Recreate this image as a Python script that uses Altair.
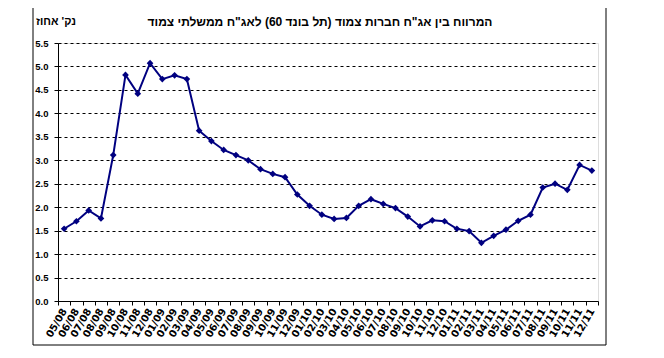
import altair as alt
import pandas as pd

months = [
    "05/08", "06/08", "07/08", "08/08", "09/08", "10/08", "11/08", "12/08",
    "01/09", "02/09", "03/09", "04/09", "05/09", "06/09", "07/09", "08/09",
    "09/09", "10/09", "11/09", "12/09",
    "01/10", "02/10", "03/10", "04/10", "05/10", "06/10", "07/10", "08/10",
    "09/10", "10/10", "11/10", "12/10",
    "01/11", "02/11", "03/11", "04/11", "05/11", "06/11", "07/11", "08/11",
    "09/11", "10/11", "11/11", "12/11",
]
spread = [
    1.54, 1.70, 1.93, 1.76, 3.11, 4.82, 4.42, 5.07,
    4.73, 4.81, 4.73, 3.63, 3.41, 3.22, 3.11, 3.00,
    2.81, 2.71, 2.64, 2.27,
    2.03, 1.84, 1.75, 1.77, 2.03, 2.17, 2.07, 1.98,
    1.80, 1.59, 1.72, 1.70,
    1.54, 1.49, 1.24, 1.39, 1.52, 1.71, 1.84, 2.42,
    2.50, 2.37, 2.90, 2.78,
]
y_ticks = [0.0, 0.5, 1.0, 1.5, 2.0, 2.5, 3.0, 3.5, 4.0, 4.5, 5.0, 5.5]

title_text = "המרווח בין אג\"ח חברות צמוד (תל בונד 60) לאג\"ח ממשלתי צמוד"
y_title = "נק' אחוז"

df = pd.DataFrame({"month": months, "spread": spread})

FONT = "Liberation Sans"
XFONT = "DejaVu Sans"
NAVY = "#000080"

x_enc = alt.X(
    "month:O",
    sort=months,
    scale=alt.Scale(type="band", paddingInner=0, paddingOuter=0),
    axis=alt.Axis(
        title=None,
        labelAngle=-60,
        labelAlign="right",
        labelBaseline="middle",
        labelFont=XFONT,
        labelFontSize=10,
        labelFontWeight="bold",
        labelColor="black",
        labelPadding=4,
        tickBand="extent",
        tickSize=4,
        tickColor="black",
        domainColor="black",
        labelOverlap=False,
        grid=False,
    ),
)
y_enc = alt.Y(
    "spread:Q",
    scale=alt.Scale(domain=[0, 5.5], nice=False, zero=True),
    axis=alt.Axis(
        values=y_ticks,
        format=".1f",
        title=None,
        labelFont=FONT,
        labelFontSize=9.5,
        labelFontWeight="bold",
        labelColor="black",
        labelPadding=6,
        labelOverlap=False,
        tickSize=4,
        tickColor="black",
        domainColor="black",
        grid=True,
        gridColor="black",
        gridDash=[3, 3],
        gridWidth=1,
    ),
)

base = alt.Chart(df).encode(x=x_enc, y=y_enc)
line = base.mark_line(color=NAVY, strokeWidth=2)
pts = base.mark_point(shape="diamond", filled=True, color=NAVY, size=45, opacity=1)

title_df = pd.DataFrame({"t": [title_text]})
title_mark = alt.Chart(title_df).mark_text(
    font=FONT, fontSize=12, fontWeight="bold", color="black", align="center", baseline="middle"
).encode(x=alt.value(262), y=alt.value(-21), text="t:N")

ytitle_df = pd.DataFrame({"t": [y_title]})
ytitle_mark = alt.Chart(ytitle_df).mark_text(
    font=FONT, fontSize=11, fontWeight="bold", color="black", align="left", baseline="middle"
).encode(x=alt.value(-22), y=alt.value(-21), text="t:N")

frame_style = dict(color="black", strokeWidth=1)
FL, FR, FT, FB = -25, 548, -36, 302
frame_left = alt.Chart(title_df).mark_rule(**frame_style).encode(
    x=alt.value(FL), y=alt.value(FT), y2=alt.value(FB))
frame_right = alt.Chart(title_df).mark_rule(**frame_style).encode(
    x=alt.value(FR), y=alt.value(FT), y2=alt.value(FB))
frame_top = alt.Chart(title_df).mark_rule(**frame_style).encode(
    x=alt.value(FL), x2=alt.value(FR), y=alt.value(FT))
frame_bottom = alt.Chart(title_df).mark_rule(**frame_style).encode(
    x=alt.value(FL), x2=alt.value(FR), y=alt.value(FB))

chart = (
    alt.layer(line, pts, title_mark, ytitle_mark, frame_left, frame_right, frame_top, frame_bottom)
    .properties(
        width=540,
        height=258,
        autosize=alt.AutoSizeParams(type="none"),
        padding={"left": 50, "top": 35, "right": 58, "bottom": 52},
    )
    .configure_view(stroke="#808080", strokeWidth=1)
    .configure(background="white")
)

chart.save("out.html", embed_options={"renderer": "svg", "actions": False})
